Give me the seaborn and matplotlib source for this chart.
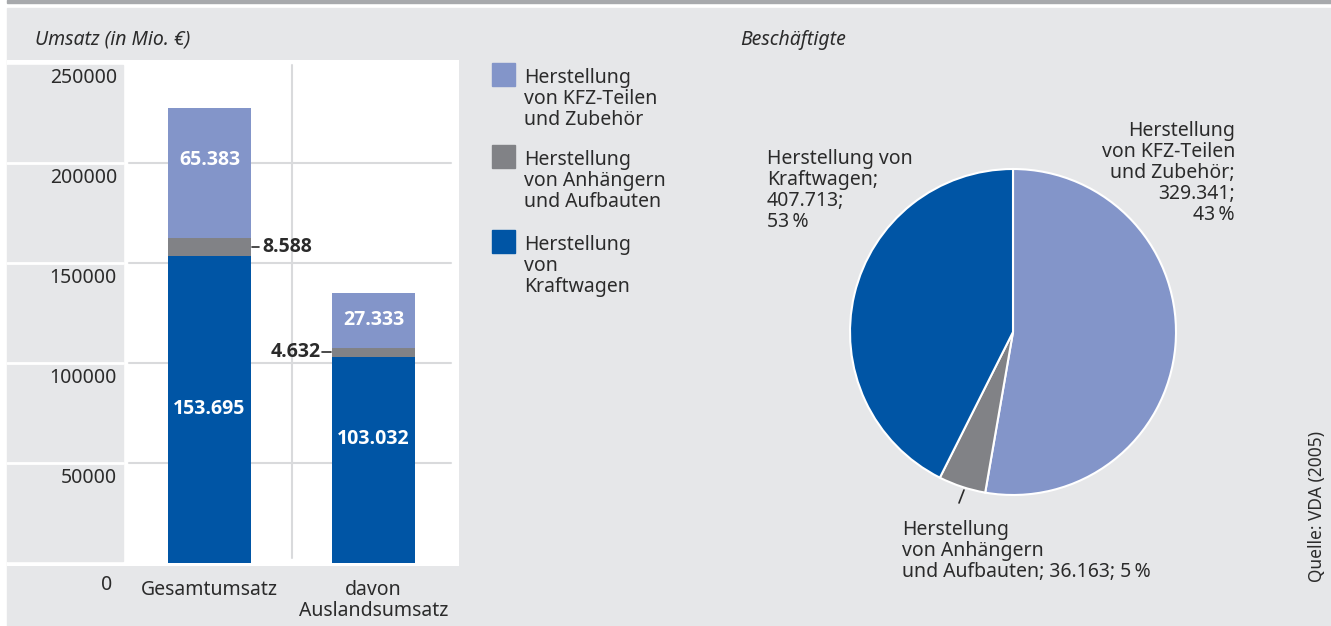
import matplotlib.pyplot as plt
import pandas as pd
import seaborn as sns
from matplotlib.patches import Rectangle

# Umsatz (in Mio. EUR)
categories = ['Gesamtumsatz', 'davon\nAuslandsumsatz']
kraftwagen = [153695, 103032]
anhaenger = [8588, 4632]
kfz_teile = [65383, 27333]
y_ticks = [0, 50000, 100000, 150000, 200000, 250000]

# Beschaeftigte (wedges drawn in the colours printed in the source)
pie_values = [407713, 36163, 329341]
pie_text = [
    'Herstellung von\nKraftwagen;\n407.713;\n53\u2009%',
    'Herstellung\nvon Anhängern\nund Aufbauten; 36.163; 5\u2009%',
    'Herstellung\nvon KFZ-Teilen\nund Zubehör;\n329.341;\n43\u2009%',
]

legend_labels = [
    'Herstellung\nvon KFZ-Teilen\nund Zubehör',
    'Herstellung\nvon Anhängern\nund Aufbauten',
    'Herstellung\nvon\nKraftwagen',
]

LIGHT = '#8395c9'
GREY = '#818286'
DARK = '#0055a5'
BG = '#e6e7e9'
TXT = '#2b2b2b'
LS = 1.07
BOLD = dict(family=['Open Sans', 'DejaVu Sans'], fontweight='bold', fontsize=14)

sns.set_theme(style='white')
plt.rcParams['font.family'] = ['Noto Sans', 'DejaVu Sans']

W, H = 1331, 626
fig = plt.figure(figsize=(W / 100, H / 100), dpi=100, facecolor='white')


def fx(px):
    return px / W


def fy(py):
    return 1 - py / H


# background panel and top rule
fig.patches.append(Rectangle((fx(7), 0), 1 - fx(7), fy(8), transform=fig.transFigure,
                             color=BG, zorder=-5))
fig.patches.append(Rectangle((fx(7), fy(3)), 1 - fx(7), 3 / H, transform=fig.transFigure,
                             color='#a7a9ac', zorder=-5))

# -------------------------------------------------------------------------
# stacked bars
# -------------------------------------------------------------------------
df = pd.DataFrame({'cat': categories, 'kraft': kraftwagen, 'anh': anhaenger, 'kfz': kfz_teile})
df['mid'] = df['kraft'] + df['anh']
df['total'] = df['mid'] + df['kfz']

ax1 = fig.add_axes([fx(7), fy(566), (459 - 7) / W, (566 - 60) / H])
ax1.set_facecolor('white')
bw = 83 / 164
for col, c in [('total', LIGHT), ('mid', GREY), ('kraft', DARK)]:
    sns.barplot(data=df, x='cat', y=col, color=c, saturation=1, width=bw, ax=ax1,
                zorder=2, linewidth=0, edgecolor='none')


def dx(px):
    return (px - 209.5) / 164


ax1.set_xlim(dx(7), dx(459))
ax1.set_ylim(-1500, 251500)
ax1.set_xticks([])
ax1.set_yticks([])
ax1.set_xlabel('')
ax1.set_ylabel('')
for s in ax1.spines.values():
    s.set_visible(False)

# label column
ax1.add_patch(Rectangle((dx(7), 1000), 116 / 164, 248000, color=BG, zorder=0.5))
for v in y_ticks[1:-1]:
    ax1.plot([dx(7), dx(123)], [v, v], color='white', lw=2, zorder=0.6)
    ax1.plot([dx(129), dx(451)], [v, v], color='#d9dadc', lw=1.5, zorder=0.6)
ax1.plot([0.5, 0.5], [2500, 249000], color='#d9dadc', lw=1.5, zorder=0.6)

for v in y_ticks[1:]:
    ax1.text(dx(117), v - 7500, str(v), ha='right', va='center', fontsize=14, color=TXT)
ax1.text(dx(112), -11000, '0', ha='right', va='center', fontsize=14, color=TXT, clip_on=False)

for i, c in enumerate(categories):
    ax1.text(i, -8300, c, ha='center', va='top', fontsize=14, color=TXT,
             linespacing=LS, clip_on=False)

# value labels
lbl_frac = [(0.5, 0.6), (0.6, 0.5)]
for i in range(len(categories)):
    fk, ft = lbl_frac[i]
    ax1.text(i, df['kraft'][i] * fk, f"{df['kraft'][i] / 1000:.3f}", ha='center', va='center',
             color='white', zorder=3, **BOLD)
    ax1.text(i, df['mid'][i] + df['kfz'][i] * ft, f"{df['kfz'][i] / 1000:.3f}", ha='center',
             va='center', color='white', zorder=3, **BOLD)

gy0 = df['kraft'][0] + df['anh'][0] / 2
ax1.plot([dx(252), dx(259)], [gy0, gy0], color=TXT, lw=1.2, zorder=3)
ax1.text(dx(262), gy0, f"{df['anh'][0] / 1000:.3f}", ha='left', va='center', color=TXT, **BOLD)
gy1 = df['kraft'][1] + df['anh'][1] / 2
ax1.plot([dx(322), dx(331)], [gy1, gy1], color=TXT, lw=1.2, zorder=3)
ax1.text(dx(321), gy1, f"{df['anh'][1] / 1000:.3f}", ha='right', va='center', color=TXT, **BOLD)

fig.text(fx(35), fy(40), 'Umsatz (in Mio. €)', ha='left', va='center', fontsize=14,
         style='italic', color=TXT)

# -------------------------------------------------------------------------
# legend
# -------------------------------------------------------------------------
leg_colors = [LIGHT, GREY, DARK]
leg_top = [63, 145, 230]
for col, top, lab in zip(leg_colors, leg_top, legend_labels):
    fig.patches.append(Rectangle((fx(492), fy(top + 23)), 23 / W, 23 / H,
                                 transform=fig.transFigure, color=col, zorder=1))
    fig.text(fx(524), fy(top + 5), lab, ha='left', va='top', fontsize=14, color=TXT,
             linespacing=LS)

# -------------------------------------------------------------------------
# pie
# -------------------------------------------------------------------------
fig.text(fx(740), fy(40), 'Beschäftigte', ha='left', va='center', fontsize=14,
         style='italic', color=TXT)

ax2 = fig.add_axes([fx(850), fy(495), 326 / W, 326 / H])
ax2.pie(pie_values, colors=[LIGHT, GREY, DARK], startangle=90, counterclock=False,
        wedgeprops=dict(edgecolor='white', linewidth=1.5))
ax2.set_xlim(-1, 1)
ax2.set_ylim(-1, 1)
ax2.set_aspect('equal')
ax2.axis('off')

fig.text(fx(767), fy(149), pie_text[0], ha='left', va='top', fontsize=14, color=TXT,
         linespacing=LS)
fig.text(fx(1235), fy(121), pie_text[2], ha='right', va='top', fontsize=14, color=TXT,
         linespacing=LS, multialignment='right')
fig.text(fx(902), fy(520), pie_text[1], ha='left', va='top', fontsize=14, color=TXT,
         linespacing=LS)
fig.lines.append(plt.Line2D([fx(959), fx(964)], [fy(503), fy(490)], transform=fig.transFigure,
                            color=TXT, lw=1.2))

fig.text(fx(1317), fy(506), 'Quelle: VDA (2005)', ha='center', va='center', rotation=90,
         fontsize=12.5, color=TXT)

fig.savefig('out.png', dpi=100, facecolor='white')
